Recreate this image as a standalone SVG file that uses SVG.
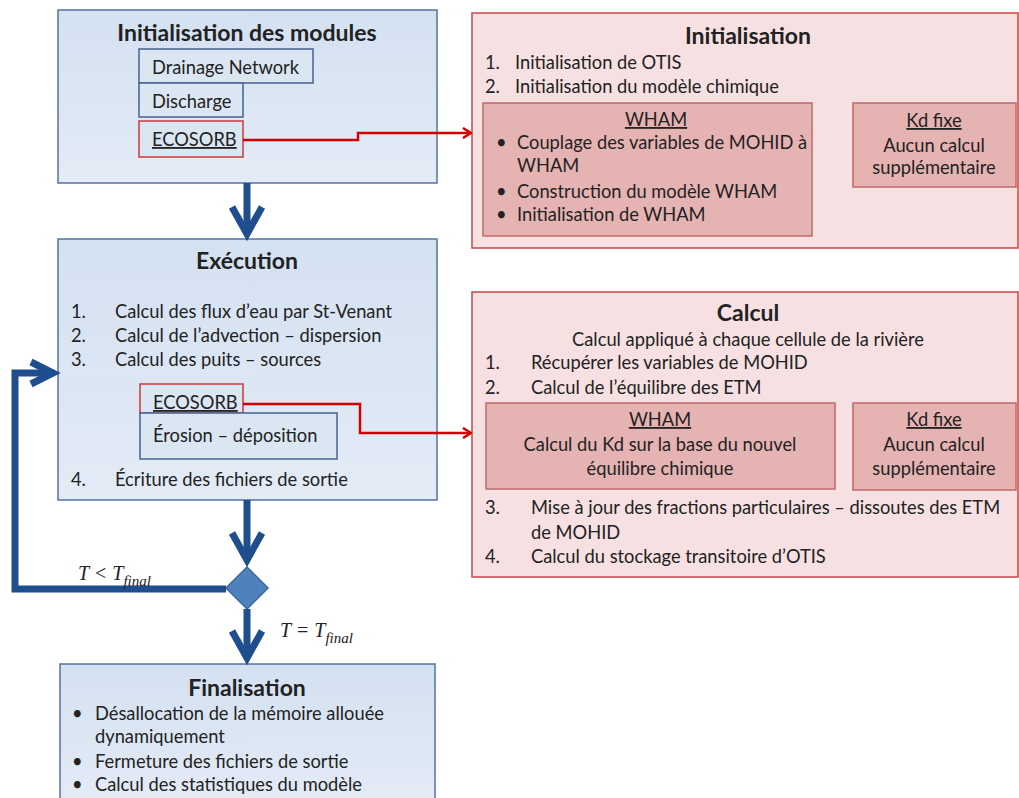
<svg xmlns="http://www.w3.org/2000/svg" width="1019" height="798" viewBox="0 0 1019 798">
<defs>
<marker id="redhead" markerWidth="10" markerHeight="12" refX="9" refY="6" orient="auto" markerUnits="userSpaceOnUse">
<polyline points="1,1 9,6 1,11" fill="none" stroke="#d40000" stroke-width="2.5"/>
</marker>
<linearGradient id="blueg" x1="0" y1="0" x2="0" y2="1">
<stop offset="0" stop-color="#d4e1f1"/>
<stop offset="1" stop-color="#e3ebf6"/>
</linearGradient>
</defs>
<style>
.bbox{fill:url(#blueg);stroke:#5571a3;stroke-width:1.5}
.sub{fill:#dbe6f3;stroke:#46628f;stroke-width:1.5}
.subr{fill:#dbe6f3;stroke:#cc3a3a;stroke-width:1.5}
.pbox{fill:#f6e0e1;stroke:#c8474a;stroke-width:1.5}
.pin{fill:#e6b3b3;stroke:#c06868;stroke-width:1.5}
text{font-family:Lato,"Liberation Sans",sans-serif;fill:#222}
.t{font-size:23px;font-weight:bold;text-anchor:middle}
.n{font-size:18.3px}
.c{text-anchor:middle}
.u{text-decoration:underline}
.math{font-family:"Liberation Serif",serif;font-style:italic;font-size:20px;fill:#222}
.red{fill:none;stroke:#d40000;stroke-width:2.5;marker-end:url(#redhead)}
.blue{fill:none;stroke:#1f4e8f;stroke-width:7}
.chev{fill:none;stroke:#1f4e8f;stroke-width:7;stroke-linejoin:miter}
</style>

<g id="init-modules">
<rect class="bbox" x="58" y="10" width="379" height="173"/>
<text class="t" x="247" y="41">Initialisation des modules</text>
<rect class="sub" x="139" y="49" width="174" height="34"/>
<text class="n" x="152" y="74">Drainage Network</text>
<rect class="sub" x="139" y="83" width="104" height="34"/>
<text class="n" x="152" y="108">Discharge</text>
<rect class="subr" x="139" y="121" width="104" height="36"/>
<text class="n u" x="152" y="146">ECOSORB</text>
</g>

<g id="execution">
<rect class="bbox" x="58" y="239" width="379" height="261"/>
<text class="t" x="247" y="269">Exécution</text>
<text class="n" x="71" y="318">1.</text><text class="n" x="115" y="318">Calcul des flux d’eau par St-Venant</text>
<text class="n" x="71" y="342">2.</text><text class="n" x="115" y="342">Calcul de l’advection – dispersion</text>
<text class="n" x="71" y="366">3.</text><text class="n" x="115" y="366">Calcul des puits – sources</text>
<rect class="subr" x="140" y="384" width="103" height="29"/>
<text class="n u" x="153" y="409">ECOSORB</text>
<rect class="sub" x="140" y="413" width="197" height="46"/>
<text class="n" x="153" y="442">Érosion – déposition</text>
<text class="n" x="71" y="486">4.</text><text class="n" x="115" y="486">Écriture des fichiers de sortie</text>
</g>

<g id="decision">
<polygon points="247,567 268,588 247,609 226,588" fill="#4f81bd" stroke="#3b67a0" stroke-width="1.5"/>
</g>

<g id="finalisation">
<rect class="bbox" x="60" y="664" width="375" height="140"/>
<text class="t" x="247" y="696">Finalisation</text>
<text class="n" x="72" y="720">•</text><text class="n" x="95" y="720">Désallocation de la mémoire  allouée</text>
<text class="n" x="95" y="743">dynamiquement</text>
<text class="n" x="72" y="768">•</text><text class="n" x="95" y="768">Fermeture  des fichiers de sortie</text>
<text class="n" x="72" y="791">•</text><text class="n" x="95" y="791">Calcul des statistiques du modèle</text>
</g>

<g id="initialisation">
<rect class="pbox" x="472" y="13" width="546" height="235"/>
<text class="t" x="748" y="44">Initialisation</text>
<text class="n" x="485" y="69">1.</text><text class="n" x="515" y="69">Initialisation de OTIS</text>
<text class="n" x="485" y="93">2.</text><text class="n" x="515" y="93">Initialisation du modèle chimique</text>
<rect class="pin" x="483" y="103" width="329" height="133"/>
<text class="n u c" x="656" y="126">WHAM</text>
<text class="n" x="496" y="149">•</text><text class="n" x="517" y="149">Couplage des variables de MOHID à</text>
<text class="n" x="517" y="172">WHAM</text>
<text class="n" x="496" y="198">•</text><text class="n" x="517" y="198">Construction du modèle WHAM</text>
<text class="n" x="496" y="221">•</text><text class="n" x="517" y="221">Initialisation de WHAM</text>
<rect class="pin" x="853" y="103" width="163" height="84"/>
<text class="n u c" x="934" y="127">Kd fixe</text>
<text class="n c" x="934" y="152">Aucun calcul</text>
<text class="n c" x="934" y="174">supplémentaire</text>
</g>

<g id="calcul">
<rect class="pbox" x="472" y="292" width="546" height="285"/>
<text class="t" x="748" y="321">Calcul</text>
<text class="n c" x="748" y="346">Calcul appliqué à chaque cellule de la rivière</text>
<text class="n" x="485" y="369">1.</text><text class="n" x="531" y="369">Récupérer les variables de MOHID</text>
<text class="n" x="485" y="394">2.</text><text class="n" x="531" y="394">Calcul de l’équilibre des ETM</text>
<rect class="pin" x="486" y="403" width="349" height="86"/>
<text class="n u c" x="660" y="426">WHAM</text>
<text class="n c" x="660" y="451">Calcul du Kd sur la base du nouvel</text>
<text class="n c" x="660" y="475">équilibre chimique</text>
<rect class="pin" x="853" y="403" width="163" height="87"/>
<text class="n u c" x="934" y="426">Kd fixe</text>
<text class="n c" x="934" y="451">Aucun calcul</text>
<text class="n c" x="934" y="475">supplémentaire</text>
<text class="n" x="485" y="514">3.</text><text class="n" x="531" y="514">Mise à jour des fractions particulaires – dissoutes des ETM</text>
<text class="n" x="531" y="539">de MOHID</text>
<text class="n" x="485" y="563">4.</text><text class="n" x="531" y="563">Calcul du stockage transitoire d’OTIS</text>
</g>

<g id="connectors">
<polyline class="red" points="243,140 358,140 358,133 471,133"/>
<polyline class="red" points="243,404 360,404 360,433 471,433"/>
<line class="blue" x1="247" y1="183" x2="247" y2="232"/>
<polyline class="chev" points="232,207 247,234 262,207"/>
<line class="blue" x1="247" y1="500" x2="247" y2="560"/>
<polyline class="chev" points="232,533 247,560 262,533"/>
<line class="blue" x1="247" y1="609" x2="247" y2="656"/>
<polyline class="chev" points="232,631 247,658 262,631"/>
<polyline class="blue" points="226,589 15,589 15,373 52,373"/>
<polyline class="chev" points="31,362 53,373 31,384"/>
<text class="math" x="78" y="580">T &lt; T<tspan font-size="15" dy="6">final</tspan></text>
<text class="math" x="280" y="637">T = T<tspan font-size="15" dy="6">final</tspan></text>
</g>
</svg>
